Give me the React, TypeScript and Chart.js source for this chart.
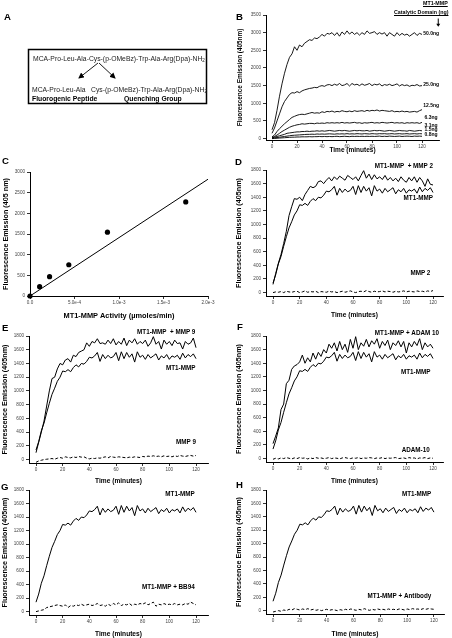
import React, { useEffect, useRef } from "react";
import { Chart, registerables } from "chart.js";
Chart.register(...registerables);

const FONT = "'Liberation Sans', Arial, Helvetica, sans-serif";

// ---------- data ----------
const TIME = [0,2,4,6,8,10,12,14,16,18,20,22,24,26,28,30,32,34,36,38,40,42,44,46,48,50,52,54,56,58,60,62,64,66,68,70,72,74,76,78,80,82,84,86,88,90,92,94,96,98,100,102,104,106,108,110,112,114,116,118,120];

// Panel B: MT1-MMP catalytic domain doses
const B_LABELS = ["50.0ng", "25.0ng", "12.5ng", "6.3ng", "3.1ng", "1.5ng", "0.8ng"];
const B_50 = [250,450,800,1200,1550,1850,2100,2300,2400,2600,2500,2650,2600,2700,2750,2800,2780,2850,2830,2880,2950,2900,2980,2960,3000,2920,3000,2900,3020,2950,3050,2960,3020,2950,3000,2930,3000,2950,3050,2980,3000,3030,2950,3000,2960,3000,2900,3000,2950,2900,3000,2920,2980,2930,2960,2900,2950,3000,2920,2980,2950];
const B_25 = [150,300,500,700,900,1050,1150,1250,1300,1290,1330,1300,1350,1380,1400,1420,1430,1450,1440,1480,1500,1480,1520,1530,1500,1540,1510,1560,1500,1520,1560,1490,1560,1520,1540,1500,1550,1510,1530,1560,1500,1540,1520,1550,1490,1530,1510,1540,1500,1520,1550,1490,1530,1500,1520,1480,1510,1500,1530,1490,1500];
const B_12 = [50,100,200,280,350,420,480,540,600,630,660,680,690,680,700,720,740,720,730,720,760,740,770,760,780,750,770,760,790,770,760,780,760,790,770,780,790,770,800,780,800,790,810,780,800,790,780,770,790,760,770,760,780,760,770,750,760,770,750,790,820];
const B_6 = [30,60,100,150,200,240,280,320,350,370,390,400,420,410,420,430,430,420,440,430,440,430,450,440,450,440,450,440,460,440,450,440,450,460,440,450,430,450,440,450,460,440,450,440,460,450,440,450,460,440,450,440,450,430,450,440,450,440,450,430,460];
const B_3 = [20,40,60,80,100,120,150,160,170,180,190,190,200,200,210,200,210,210,220,210,220,210,220,230,220,210,220,230,220,230,220,210,220,230,220,230,220,220,230,210,220,230,220,230,220,210,220,230,220,210,220,230,220,220,210,230,220,210,220,230,220];
const B_1 = [10,20,30,40,50,60,70,80,90,95,100,105,110,115,120,120,125,120,130,125,130,125,130,135,130,125,135,130,135,130,140,130,135,130,140,135,130,140,135,130,140,135,130,140,135,140,130,135,140,130,135,140,130,135,140,130,135,140,130,140,135];
const B_08 = [0,5,10,15,20,25,30,35,40,40,45,45,50,50,50,55,50,55,55,60,55,60,55,60,55,60,65,55,60,65,60,55,65,60,65,60,65,60,65,60,65,60,65,70,60,65,60,70,65,60,65,70,60,65,70,65,60,70,65,70,65];
const B_Y_TICKS = [0,500,1000,1500,2000,2500,3000,3500];

// Panel C: activity vs fluorescence
const C_ACTIVITY = [0, 1.08e-4, 2.2e-4, 4.36e-4, 8.7e-4, 1.75e-3];
const C_FLUOR = [0, 225, 467, 756, 1545, 2277];
const C_FIT_X = [0, 2.0e-3];
const C_FIT_Y = [0, 2825];
const C_X_TICKS = [0, 5e-4, 1e-3, 1.5e-3, 2e-3];
const C_Y_TICKS = [0,500,1000,1500,2000,2500,3000];

// Panels D-H
const MT1_MMP = [140,260,420,530,680,820,950,1040,1140,1200,1290,1280,1310,1280,1340,1380,1350,1400,1390,1430,1490,1480,1510,1560,1430,1530,1470,1520,1480,1500,1560,1440,1570,1470,1560,1490,1540,1420,1570,1490,1520,1460,1530,1480,1510,1540,1450,1510,1480,1530,1460,1510,1490,1520,1460,1550,1480,1530,1500,1540,1470];
const MT1_PLUS_MMP2 = [120,280,430,560,720,900,1130,1260,1380,1370,1400,1350,1440,1500,1560,1540,1560,1630,1640,1600,1650,1690,1640,1700,1660,1710,1680,1650,1720,1690,1660,1700,1640,1720,1790,1680,1740,1660,1730,1670,1700,1660,1720,1650,1690,1640,1680,1630,1700,1650,1620,1690,1640,1700,1620,1690,1640,1560,1670,1590,1580];
const MMP2 = [0,10,5,15,0,20,10,5,15,20,0,10,25,5,15,10,20,0,15,10,5,20,10,15,0,10,20,5,15,25,10,0,15,20,10,30,15,5,20,10,15,25,10,20,15,5,20,10,15,25,10,20,15,10,25,15,20,10,25,15,30];
const MT1_PLUS_MMP9 = [100,250,400,560,780,1000,1180,1200,1320,1400,1380,1450,1470,1420,1520,1500,1560,1580,1600,1700,1650,1720,1700,1760,1690,1700,1680,1740,1690,1760,1670,1720,1680,1770,1660,1740,1700,1760,1680,1720,1690,1740,1650,1700,1790,1680,1720,1610,1740,1680,1720,1660,1740,1690,1700,1610,1720,1680,1700,1770,1630];
const MMP9 = [-40,-20,-10,0,5,10,15,5,20,30,20,40,30,25,40,30,45,35,40,20,10,20,15,25,20,30,40,25,45,35,30,40,35,30,25,35,30,40,35,30,45,40,50,45,55,45,50,40,55,45,50,40,55,45,60,50,45,55,60,50,60];
const MT1_PLUS_ADAM10 = [220,330,450,720,800,1100,1150,1310,1360,1380,1420,1520,1400,1480,1420,1550,1460,1560,1500,1600,1550,1680,1620,1700,1580,1720,1600,1680,1560,1750,1620,1790,1600,1700,1650,1750,1640,1730,1680,1760,1620,1720,1660,1740,1600,1700,1660,1730,1640,1720,1550,1700,1640,1720,1660,1760,1600,1700,1640,1680,1620];
const ADAM10 = [-10,5,-5,10,0,15,5,-5,10,0,15,5,10,-5,10,0,15,5,10,0,5,15,0,10,5,-5,10,15,5,0,10,5,15,0,10,5,15,10,0,10,5,15,0,10,5,10,15,0,5,10,0,15,5,10,-5,10,5,15,0,10,5];
const MT1_PLUS_BB94 = [0,10,20,30,60,70,80,90,100,90,80,100,60,90,80,100,90,110,90,100,110,90,100,120,90,100,80,110,90,120,100,130,90,110,100,120,90,110,100,120,110,130,100,120,140,80,110,100,120,100,110,100,120,100,110,100,120,110,140,120,100];
const MT1_PLUS_ANTIBODY = [-20,-10,0,-10,10,0,20,10,30,20,10,25,15,30,10,20,5,15,0,10,20,5,15,10,0,15,5,20,10,25,15,5,20,10,30,15,5,20,10,25,15,20,10,25,15,20,10,25,20,10,25,15,30,20,25,15,30,20,30,25,20];
const TIME_TICKS = [0,20,40,60,80,100,120];
const DH_Y_TICKS = [0,200,400,600,800,1000,1200,1400,1600,1800];

// ---------- types ----------
type Lbl = { text: string; x: number; y: number; align: CanvasTextAlign; size: number };
type Series = { xs: number[]; ys: number[]; dashed?: boolean; points?: boolean; width?: number };
type Cfg = {
  id: string; left: number; top: number; width: number; height: number;
  yWidth: number; xHeight: number; padTop: number; padRight: number;
  xMin: number; xMax: number; yMin: number; yMax: number;
  xTicks: number[]; yTicks: number[]; xFmt?: (v: number) => string;
  xTitle: string; yTitle: string; xTitleSize: number; yTitleSize: number;
  xTitlePad: number; yTitlePad: number;
  series: Series[]; labels: Lbl[]; arrow?: { x: number; y0: number; y1: number };
};

function makeAnnot(labels: Lbl[], arrow?: { x: number; y0: number; y1: number }) {
  return {
    id: "annot",
    afterDraw(chart: any) {
      const ctx = chart.ctx;
      const xs = chart.scales.x, ys = chart.scales.y;
      ctx.save();
      ctx.fillStyle = "#000";
      ctx.textBaseline = "middle";
      for (const l of labels) {
        ctx.font = `bold ${l.size}px ${FONT}`;
        ctx.textAlign = l.align;
        ctx.fillText(l.text, xs.getPixelForValue(l.x), ys.getPixelForValue(l.y));
      }
      if (arrow) {
        const px = xs.getPixelForValue(arrow.x);
        const p0 = ys.getPixelForValue(arrow.y0);
        const p1 = ys.getPixelForValue(arrow.y1);
        ctx.strokeStyle = "#000";
        ctx.lineWidth = 1;
        ctx.beginPath();
        ctx.moveTo(px, p0);
        ctx.lineTo(px, p1 - 2);
        ctx.stroke();
        ctx.beginPath();
        ctx.moveTo(px - 2, p1 - 3);
        ctx.lineTo(px + 2, p1 - 3);
        ctx.lineTo(px, p1);
        ctx.closePath();
        ctx.fill();
      }
      ctx.restore();
    },
  };
}

const plainFmt = (v: number) => String(v);
const expFmt = (v: number) => (v === 0 ? "0.0" : v.toExponential(1));

function ChartPanel({ cfg }: { cfg: Cfg }) {
  const ref = useRef<HTMLCanvasElement>(null);
  useEffect(() => {
    if (!ref.current) return;
    const tickFont = { size: 4.6, family: FONT };
    const grid = { drawOnChartArea: false, drawTicks: true, tickLength: 3, color: "#000", lineWidth: 0.8 };
    const border = { display: true, color: "#000", width: 1 };
    const chart = new Chart(ref.current, {
      type: "line",
      data: {
        datasets: cfg.series.map((s) => ({
          data: s.xs.map((x, i) => ({ x, y: s.ys[i] })),
          borderColor: "#000",
          backgroundColor: "#000",
          borderWidth: s.points ? 0 : s.width ?? 1,
          borderDash: s.dashed ? [3, 2] : [],
          showLine: !s.points,
          pointRadius: s.points ? 2.6 : 0,
          pointBackgroundColor: "#000",
          pointBorderWidth: 0,
          tension: 0,
          fill: false,
          clip: s.points ? false : undefined,
        })) as any,
      },
      options: {
        animation: false,
        responsive: false,
        maintainAspectRatio: false,
        events: [],
        layout: { padding: { top: cfg.padTop, right: cfg.padRight, left: 0, bottom: 0 } },
        plugins: { legend: { display: false }, tooltip: { enabled: false } },
        scales: {
          x: {
            type: "linear",
            min: cfg.xMin,
            max: cfg.xMax,
            afterBuildTicks: (s: any) => { s.ticks = cfg.xTicks.map((v) => ({ value: v })); },
            afterFit: (s: any) => { s.height = cfg.xHeight; },
            grid, border,
            ticks: { font: tickFont, color: "#444", padding: 1, maxRotation: 0, autoSkip: false,
              callback: (v: any) => (cfg.xFmt ? cfg.xFmt(Number(v)) : plainFmt(Number(v))) },
            title: { display: true, text: cfg.xTitle, color: "#000",
              font: { size: cfg.xTitleSize, weight: "bold", family: FONT },
              padding: { top: 0, bottom: cfg.xTitlePad } },
          },
          y: {
            type: "linear",
            min: cfg.yMin,
            max: cfg.yMax,
            afterBuildTicks: (s: any) => { s.ticks = cfg.yTicks.map((v) => ({ value: v })); },
            afterFit: (s: any) => { s.width = cfg.yWidth; },
            grid, border,
            ticks: { font: tickFont, color: "#444", padding: 2, autoSkip: false,
              callback: (v: any) => plainFmt(Number(v)) },
            title: { display: true, text: cfg.yTitle, color: "#000",
              font: { size: cfg.yTitleSize, weight: "bold", family: FONT },
              padding: { top: cfg.yTitlePad, bottom: 0 } },
          },
        } as any,
      },
      plugins: [makeAnnot(cfg.labels, cfg.arrow)],
    });
    return () => chart.destroy();
  }, [cfg]);
  return (
    <canvas
      ref={ref}
      width={cfg.width}
      height={cfg.height}
      style={{ position: "absolute", left: cfg.left, top: cfg.top, width: cfg.width, height: cfg.height }}
    />
  );
}

const YT = "Fluorescence Emission (405nm)";
const XT = "Time (minutes)";
const L = (text: string, x: number, y: number, size = 6.3, align: CanvasTextAlign = "right"): Lbl => ({ text, x, y, size, align });

const RIGHT_COL = { left: 226, width: 226, yWidth: 40, padRight: 9, xMin: -5.25, xMax: 127.5, yTitlePad: 9 };
const LEFT_COL = { left: 0, width: 226, yWidth: 29, padRight: 18, xMin: -5.25, xMax: 129, yTitlePad: 0.5 };
const DH_COMMON = { yMin: -50, yMax: 1800, xTicks: TIME_TICKS, yTicks: DH_Y_TICKS, xTitle: XT, yTitle: YT, xTitleSize: 6.6, yTitleSize: 7.2 };

const CONFIGS: Cfg[] = [
  {
    id: "B", left: 226, top: 0, width: 226, height: 160, yWidth: 40, xHeight: 20, padTop: 15, padRight: 13,
    xMin: -4.8, xMax: 133.6, yMin: -40, yMax: 3500, xTicks: TIME_TICKS, yTicks: B_Y_TICKS,
    xTitle: XT, yTitle: YT, xTitleSize: 6.5, yTitleSize: 6.4, xTitlePad: 6, yTitlePad: 10,
    series: [B_50, B_25, B_12, B_6, B_3, B_1, B_08].map((ys) => ({ xs: TIME, ys, width: 0.9 })),
    labels: [
      L(B_LABELS[0], 121, 2980, 5, "left"), L(B_LABELS[1], 121, 1530, 5, "left"), L(B_LABELS[2], 121, 920, 5, "left"),
      L(B_LABELS[3], 122, 580, 5, "left"), L(B_LABELS[4], 122, 370, 5, "left"), L(B_LABELS[5], 122, 240, 5, "left"),
      L(B_LABELS[6], 122, 100, 5, "left"),
    ],
    arrow: { x: 133, y0: 3400, y1: 3170 },
  },
  {
    id: "C", left: 0, top: 160, width: 226, height: 160, yWidth: 30, xHeight: 24, padTop: 12, padRight: 18,
    xMin: 0, xMax: 2e-3, yMin: 0, yMax: 3000, xTicks: C_X_TICKS, yTicks: C_Y_TICKS, xFmt: expFmt,
    xTitle: "MT1-MMP Activity (\u00b5moles/min)", yTitle: "Fluorescence Emission (405 nm)",
    xTitleSize: 7.4, yTitleSize: 7.2, xTitlePad: 0, yTitlePad: 2,
    series: [
      { xs: C_FIT_X, ys: C_FIT_Y, width: 1 },
      { xs: C_ACTIVITY, ys: C_FLUOR, points: true },
    ],
    labels: [],
  },
  {
    id: "D", ...RIGHT_COL, ...DH_COMMON, top: 160, height: 160, xHeight: 24, padTop: 10, xTitlePad: 1,
    series: [{ xs: TIME, ys: MT1_PLUS_MMP2 }, { xs: TIME, ys: MT1_MMP }, { xs: TIME, ys: MMP2, dashed: true }],
    labels: [L("MT1-MMP  + MMP 2", 120, 1850), L("MT1-MMP", 120, 1390), L("MMP 2", 118, 280)],
  },
  {
    id: "E", ...LEFT_COL, ...DH_COMMON, top: 320, height: 166, xHeight: 23, padTop: 16, xTitlePad: 1,
    series: [{ xs: TIME, ys: MT1_PLUS_MMP9 }, { xs: TIME, ys: MT1_MMP }, { xs: TIME, ys: MMP9, dashed: true }],
    labels: [L("MT1-MMP  + MMP 9", 119.5, 1850), L("MT1-MMP", 119.5, 1330), L("MMP 9", 120, 245)],
  },
  {
    id: "F", ...RIGHT_COL, ...DH_COMMON, top: 320, height: 166, xHeight: 24, padTop: 16, xTitlePad: 1,
    series: [{ xs: TIME, ys: MT1_PLUS_ADAM10 }, { xs: TIME, ys: MT1_MMP }, { xs: TIME, ys: ADAM10, dashed: true }],
    labels: [L("MT1-MMP + ADAM 10", 124.5, 1840), L("MT1-MMP", 118, 1270), L("ADAM-10", 117.5, 126)],
  },
  {
    id: "G", ...LEFT_COL, ...DH_COMMON, top: 480, height: 158, xHeight: 23, padTop: 10, xTitlePad: 0,
    series: [{ xs: TIME, ys: MT1_MMP }, { xs: TIME, ys: MT1_PLUS_BB94, dashed: true }],
    labels: [L("MT1-MMP", 119, 1730), L("MT1-MMP + BB94", 119, 357)],
  },
  {
    id: "H", ...RIGHT_COL, ...DH_COMMON, top: 480, height: 158, xHeight: 24, padTop: 10, padRight: 8, xTitlePad: 0,
    series: [{ xs: TIME, ys: MT1_MMP }, { xs: TIME, ys: MT1_PLUS_ANTIBODY, dashed: true }],
    labels: [L("MT1-MMP", 118, 1740), L("MT1-MMP + Antibody", 118, 222)],
  },
];

const PANEL_LETTERS = [
  { t: "A", x: 4, y: 12 }, { t: "B", x: 236, y: 12 },
  { t: "C", x: 2, y: 156 }, { t: "D", x: 235, y: 157 },
  { t: "E", x: 2, y: 323 }, { t: "F", x: 237, y: 322 },
  { t: "G", x: 1, y: 482 }, { t: "H", x: 236, y: 480 },
];

const NO_LCD: React.CSSProperties = { willChange: "transform", transform: "translateZ(0)" };

function PanelA() {
  return (
    <svg width={226} height={150} style={{ position: "absolute", left: 0, top: 0, ...NO_LCD }} fontFamily={FONT}>
      <defs>
        <marker id="ah" markerWidth="6" markerHeight="6" refX="5" refY="3" orient="auto" markerUnits="userSpaceOnUse">
          <path d="M0,0 L6,3 L0,6 z" fill="#000" />
        </marker>
      </defs>
      <rect x={28.5} y={49.5} width={178} height={54} fill="none" stroke="#000" strokeWidth={1.5} />
      <text x={33} y={60.5} fontSize={6.8} fill="#222">
        MCA-Pro-Leu-Ala-Cys-(p-OMeBz)-Trp-Ala-Arg(Dpa)-NH<tspan fontSize={4.5} dy={1.5}>2</tspan>
      </text>
      <line x1={98} y1={63} x2={79} y2={78} stroke="#000" strokeWidth={0.9} markerEnd="url(#ah)" />
      <line x1={99} y1={63} x2={115} y2={78} stroke="#000" strokeWidth={0.9} markerEnd="url(#ah)" />
      <text x={32} y={91.5} fontSize={6.8} fill="#222">MCA-Pro-Leu-Ala</text>
      <text x={91} y={91.5} fontSize={6.8} fill="#222">
        Cys-(p-OMeBz)-Trp-Ala-Arg(Dpa)-NH<tspan fontSize={4.5} dy={1.5}>2</tspan>
      </text>
      <text x={32} y={100.5} fontSize={6.8} fontWeight="bold">Fluorogenic Peptide</text>
      <text x={124} y={100.5} fontSize={6.8} fontWeight="bold">Quenching Group</text>
    </svg>
  );
}

export default function App() {
  return (
    <div style={{ position: "absolute", left: 0, top: 0, width: 452, height: 638, background: "#fff", overflow: "hidden", fontFamily: FONT }}>
      <PanelA />
      {CONFIGS.map((c) => (
        <ChartPanel key={c.id} cfg={c} />
      ))}
      <div style={{ position: "absolute", right: 4, top: 0, fontSize: 5.3, fontWeight: "bold", textDecoration: "underline", lineHeight: "6px", whiteSpace: "nowrap", ...NO_LCD }}>MT1-MMP</div>
      <div style={{ position: "absolute", right: 4, top: 9, fontSize: 5.3, fontWeight: "bold", textDecoration: "underline", lineHeight: "6px", whiteSpace: "nowrap", ...NO_LCD }}>Catalytic Domain (ng)</div>
      {PANEL_LETTERS.map((p) => (
        <div key={p.t} style={{ position: "absolute", left: p.x, top: p.y, fontSize: 9.6, fontWeight: "bold", lineHeight: "9px", ...NO_LCD }}>{p.t}</div>
      ))}
    </div>
  );
}
